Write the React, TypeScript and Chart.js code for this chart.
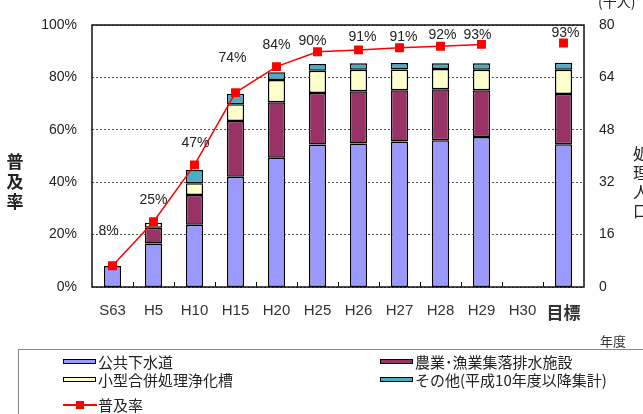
import React, { useEffect, useRef } from 'react';
import { Chart, registerables } from 'chart.js';

Chart.register(...registerables);

const categories = ['S63', 'H5', 'H10', 'H15', 'H20', 'H25', 'H26', 'H27', 'H28', 'H29', 'H30', '目標'];
// 処理人口（千人）
const sewer = [6.4, 13.3, 19.0, 33.7, 39.5, 43.5, 43.8, 44.4, 44.8, 45.8, null, 43.6];
const rural = [null, 4.8, 9.1, 17.0, 16.9, 15.7, 16.0, 15.7, 15.6, 14.3, null, 15.3];
const johkasou = [null, 1.5, 3.6, 5.1, 6.8, 6.8, 6.5, 6.3, 6.2, 6.2, null, 7.4];
const others = [null, null, 4.0, 3.2, 2.4, 2.1, 2.0, 2.0, 1.7, 2.0, null, 2.2];
// 普及率（%）
const rate = [8.1, 24.9, 46.6, 74.2, 84.1, 89.8, 90.5, 91.3, 91.9, 92.6, null, 93.1];
const rateLabels = ['8%', '25%', '47%', '74%', '84%', '90%', '91%', '91%', '92%', '93%', '', '93%'];
const leftTicks = [0, 20, 40, 60, 80, 100];
const rightTicks = [0, 16, 32, 48, 64, 80];

const seriesNames = ['公共下水道', '農業･漁業集落排水施設', '小型合併処理浄化槽', 'その他(平成10年度以降集計)', '普及率'];
const seriesColors = ['#9999FF', '#993366', '#FFFFCC', '#4BACC6', '#FF0000'];

// label placement relative to each marker (dx, dy in px)
const labelOffsets = [
  [-4, -35], [0, -22], [1, -22], [-3, -34], [0, -22], [-5, -11],
  [4, -13], [4, -11], [2, -11], [-4, -9], [0, 0], [2, -10],
];

const FONT = "Arial, 'Liberation Sans', 'Noto Sans CJK JP', sans-serif";
const JFONT = "'Noto Sans CJK JP', 'Noto Sans', sans-serif";

const decorPlugin = {
  id: 'decor',
  afterDatasetsDraw(chart: any) {
    const { ctx, chartArea } = chart;
    const xs = chart.scales.x;
    ctx.save();
    // frame
    ctx.strokeStyle = '#111';
    ctx.lineWidth = 1.5;
    ctx.setLineDash([]);
    ctx.strokeRect(chartArea.left, chartArea.top, chartArea.right - chartArea.left, chartArea.bottom - chartArea.top);
    // inner tick marks between categories
    ctx.lineWidth = 1;
    ctx.beginPath();
    for (let i = 0; i < categories.length - 1; i++) {
      const bx = Math.round((xs.getPixelForTick(i) + xs.getPixelForTick(i + 1)) / 2) + 0.5;
      ctx.moveTo(bx, chartArea.bottom);
      ctx.lineTo(bx, chartArea.bottom - 5);
    }
    ctx.stroke();
    // rate labels
    const meta = chart.getDatasetMeta(0);
    ctx.font = `14px ${FONT}`;
    ctx.fillStyle = '#222';
    ctx.textAlign = 'center';
    ctx.textBaseline = 'middle';
    meta.data.forEach((pt: any, i: number) => {
      if (rate[i] == null || !rateLabels[i]) return;
      const [dx, dy] = labelOffsets[i];
      ctx.fillText(rateLabels[i], pt.x + dx, pt.y + dy);
    });
    ctx.restore();
  },
};

export default function App() {
  const ref = useRef<HTMLCanvasElement | null>(null);

  useEffect(() => {
    if (!ref.current) return;
    const barStyle = {
      yAxisID: 'y1',
      borderColor: '#000',
      borderWidth: 1.5,
      borderSkipped: false,
      barPercentage: 0.42,
      categoryPercentage: 1,
      order: 1,
    };
    const chart = new Chart(ref.current, {
      type: 'bar',
      data: {
        labels: categories,
        datasets: [
          {
            type: 'line',
            label: seriesNames[4],
            data: rate,
            yAxisID: 'y',
            borderColor: seriesColors[4],
            backgroundColor: seriesColors[4],
            borderWidth: 1.5,
            pointStyle: 'rect',
            pointRadius: 6.3,
            pointBorderWidth: 0,
            spanGaps: false,
            order: 0,
          } as any,
          { label: seriesNames[0], data: sewer, backgroundColor: seriesColors[0], ...barStyle },
          { label: seriesNames[1], data: rural, backgroundColor: seriesColors[1], ...barStyle },
          { label: seriesNames[2], data: johkasou, backgroundColor: seriesColors[2], ...barStyle },
          { label: seriesNames[3], data: others, backgroundColor: seriesColors[3], ...barStyle },
        ],
      },
      options: {
        responsive: false,
        animation: false,
        layout: { padding: { top: 25, left: 0, right: 0, bottom: 0 } },
        plugins: { legend: { display: false }, tooltip: { enabled: false } },
        scales: {
          x: {
            stacked: true,
            grid: { display: false },
            border: { display: false },
            ticks: {
              padding: 7,
              color: '#333',
              font: (c: any) =>
                c.index === categories.length - 1
                  ? { family: JFONT, size: 17, weight: 'bold' }
                  : { family: FONT, size: 15 },
            },
            afterFit: (s: any) => { s.height = 127; },
          },
          y: {
            position: 'left',
            min: 0,
            max: 100,
            afterBuildTicks: (s: any) => { s.ticks = leftTicks.map((v) => ({ value: v })); },
            ticks: {
              padding: 15,
              color: '#222',
              font: { family: FONT, size: 14 },
              callback: (v: any) => v + '%',
            },
            grid: { color: '#555', lineWidth: 1, drawTicks: false },
            border: { display: false, dash: [2, 2] },
            afterFit: (s: any) => { s.width = 92; },
          },
          y1: {
            position: 'right',
            stacked: true,
            min: 0,
            max: 80,
            afterBuildTicks: (s: any) => { s.ticks = rightTicks.map((v) => ({ value: v })); },
            ticks: { padding: 15, color: '#222', font: { family: FONT, size: 14 } },
            grid: { display: false, drawTicks: false },
            border: { display: false },
            afterFit: (s: any) => { s.width = 59; },
          },
        },
      } as any,
      plugins: [decorPlugin],
    });
    return () => chart.destroy();
  }, []);

  const swatch = (color: string) => (
    <div style={{ position: 'absolute', left: 0, top: -3, width: 31, height: 3, border: '1.5px solid #000', background: color }} />
  );

  const legendItems = [
    { x: 63, y: 362, i: 0 },
    { x: 380, y: 362, i: 1 },
    { x: 63, y: 380, i: 2 },
    { x: 380, y: 380, i: 3 },
  ];

  return (
    <div style={{ position: 'absolute', left: 0, top: 0, width: 643, height: 414, overflow: 'hidden', background: '#fff', fontFamily: JFONT, color: '#222' }}>
      <canvas ref={ref} width={643} height={414} style={{ position: 'absolute', left: 0, top: 0 }} />
      {/* left axis title */}
      <div style={{ position: 'absolute', left: 6, top: 151, width: 18, fontSize: 17, lineHeight: '20px', fontWeight: 700, textAlign: 'center' }}>
        {'普及率'.split('').map((c, i) => <div key={i}>{c}</div>)}
      </div>
      {/* right axis title */}
      <div style={{ position: 'absolute', left: 633, top: 144, width: 18, fontSize: 16, lineHeight: '19px', textAlign: 'left' }}>
        {'処理人口'.split('').map((c, i) => <div key={i}>{c}</div>)}
      </div>
      <div style={{ position: 'absolute', left: 598, top: -6, fontSize: 14, lineHeight: '14px', whiteSpace: 'nowrap' }}>(千人)</div>
      <div style={{ position: 'absolute', left: 600, top: 333, fontSize: 13, lineHeight: '16px', whiteSpace: 'nowrap', color: '#333' }}>年度</div>
      {/* legend */}
      <div style={{ position: 'absolute', left: 18, top: 349, width: 800, height: 200, border: '1px solid #888', boxSizing: 'border-box' }} />
      {legendItems.map((it) => (
        <div key={it.i} style={{ position: 'absolute', left: it.x, top: it.y, height: 0 }}>
          {swatch(seriesColors[it.i])}
          <div style={{ position: 'absolute', left: 35, top: -10, fontSize: 15, lineHeight: '20px', whiteSpace: 'nowrap' }}>{seriesNames[it.i]}</div>
        </div>
      ))}
      <div style={{ position: 'absolute', left: 63, top: 405, height: 0 }}>
        <div style={{ position: 'absolute', left: 0, top: -1, width: 34, height: 2, background: seriesColors[4] }} />
        <div style={{ position: 'absolute', left: 13, top: -4, width: 8, height: 8, background: seriesColors[4] }} />
        <div style={{ position: 'absolute', left: 35, top: -10, fontSize: 15, lineHeight: '20px', whiteSpace: 'nowrap' }}>{seriesNames[4]}</div>
      </div>
    </div>
  );
}
